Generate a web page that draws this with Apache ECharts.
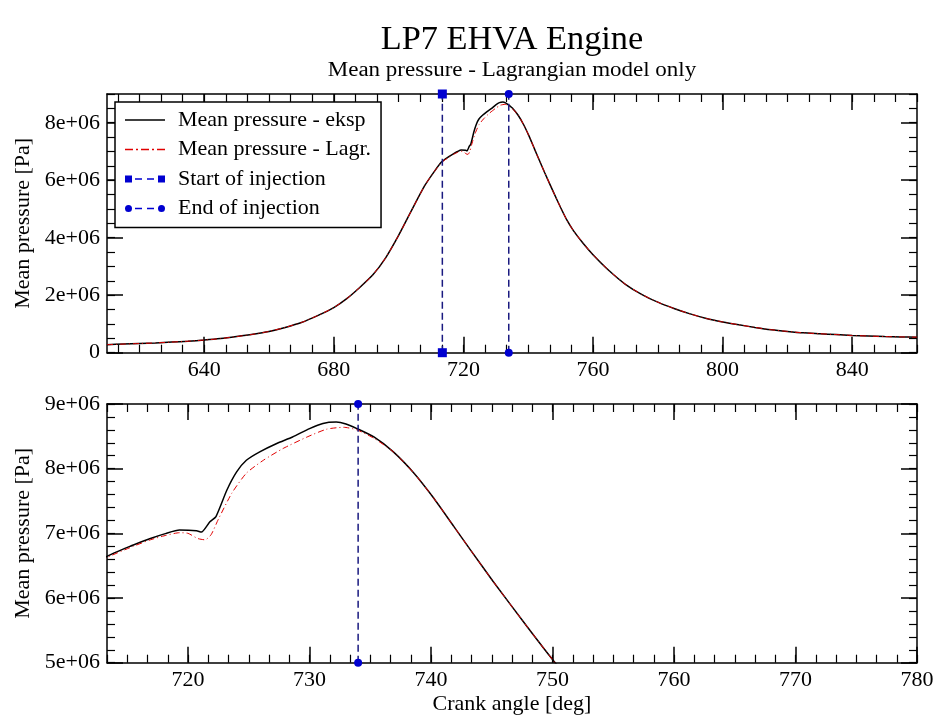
<!DOCTYPE html>
<html>
<head>
<meta charset="utf-8">
<script src="https://cdn.jsdelivr.net/npm/echarts@6/dist/echarts.min.js"></script>
<style>
html,body{margin:0;padding:0;background:#fff;}
#c{width:935px;height:715px;}
</style>
</head>
<body>
<div id="c"></div>
<script>
// ---- data (Pa vs crank angle deg) ----
const angleEksp = [610,615,620,625,630,635,640,645,650,655,660,665,670,675,680,684,688,692,696,700,704,708,711,713.3,715.5,716.9,718.2,719.3,720.7,721.1,721.8,722.3,723.2,724,724.8,725.9,727.3,728.6,730,731.1,732.2,733,733.9,735.3,736.9,738.6,740.2,741.9,743.3,745.1,747.9,750,752,754,757,760,765,770,775,780,785,790,795,800,805,810,815,820,825,830,835,840,845,850,855,860];
const pressureEksp = [0.28e6,0.30e6,0.32e6,0.34e6,0.37e6,0.40e6,0.44e6,0.49e6,0.56e6,0.64e6,0.74e6,0.88e6,1.05e6,1.29e6,1.57e6,1.88e6,2.27e6,2.70e6,3.30e6,4.08e6,4.95e6,5.80e6,6.30e6,6.64e6,6.82e6,6.92e6,7.00e6,7.05e6,7.04e6,7.02e6,7.18e6,7.26e6,7.67e6,7.95e6,8.13e6,8.26e6,8.39e6,8.49e6,8.62e6,8.70e6,8.72e6,8.69e6,8.62e6,8.49e6,8.26e6,7.93e6,7.55e6,7.10e6,6.73e6,6.26e6,5.56e6,5.05e6,4.60e6,4.24e6,3.80e6,3.41e6,2.85e6,2.38e6,2.03e6,1.76e6,1.54e6,1.35e6,1.19e6,1.07e6,0.97e6,0.88e6,0.80e6,0.74e6,0.69e6,0.66e6,0.63e6,0.60e6,0.58e6,0.56e6,0.55e6,0.54e6];
const angleLagr = [610,615,620,625,630,635,640,645,650,655,660,665,670,675,680,684,688,692,696,700,704,708,711,713.3,715.5,716.9,718.2,719.3,720.0,720.8,721.4,721.9,722.5,723.6,724.8,726.2,727.8,729.8,731.4,732.8,733.9,735.3,736.9,738.6,740.2,741.9,743.3,745.1,747.9,750,752,754,757,760,765,770,775,780,785,790,795,800,805,810,815,820,825,830,835,840,845,850,855,860];
const pressureLagr = [0.28e6,0.30e6,0.32e6,0.34e6,0.37e6,0.40e6,0.44e6,0.49e6,0.56e6,0.64e6,0.74e6,0.88e6,1.05e6,1.29e6,1.57e6,1.88e6,2.27e6,2.70e6,3.30e6,4.08e6,4.95e6,5.80e6,6.30e6,6.62e6,6.80e6,6.90e6,6.97e6,7.01e6,7.00e6,6.92e6,6.90e6,6.98e6,7.22e6,7.62e6,7.93e6,8.13e6,8.31e6,8.49e6,8.61e6,8.64e6,8.60e6,8.47e6,8.26e6,7.93e6,7.55e6,7.10e6,6.73e6,6.26e6,5.56e6,5.05e6,4.60e6,4.24e6,3.80e6,3.41e6,2.85e6,2.38e6,2.03e6,1.76e6,1.54e6,1.35e6,1.19e6,1.07e6,0.97e6,0.88e6,0.80e6,0.74e6,0.69e6,0.66e6,0.63e6,0.60e6,0.58e6,0.56e6,0.55e6,0.54e6];
const startInjection = 713.5;
const endInjection = 734;
const topXRange = [610, 860];
const topYRange = [0, 9e6];
const bottomXRange = [713.33, 780];
const bottomYRange = [5e6, 9e6];
const topXTicks = [640, 680, 720, 760, 800, 840];
const topYTicks = [0, 2e6, 4e6, 6e6, 8e6];
const bottomXTicks = [720, 730, 740, 750, 760, 770, 780];
const bottomYTicks = [5e6, 6e6, 7e6, 8e6, 9e6];
const seriesNames = ['Mean pressure - eksp', 'Mean pressure - Lagr.', 'Start of injection', 'End of injection'];

// ---- helpers ----
const FONT = 'Liberation Serif';
const C_EKSP = '#000000', C_LAGR = '#e00000', C_INJ = '#0000d0', C_INJ_LINE = '#1a1a80';
function pairs(xs, ys) { return xs.map((x, i) => [x, ys[i]]); }
function minorTicks(min, max, anchor, step) {
  const out = [];
  let n = Math.ceil((min - anchor) / step - 1e-6);
  for (;; n++) {
    const v = anchor + n * step;
    if (v > max + 1e-6) break;
    out.push(+v.toFixed(6));
  }
  return out;
}
function fmtY(v) { return v === 0 ? '0' : (Math.round(v / 1e5) / 10) + 'e+06'; }
const lineSt = { color: '#000', width: 1.5 };
const labelSt = { color: '#000', fontFamily: FONT, fontSize: 22 };

function makeAxes(dim, g, range, major, minorStep, fmt, name, nameGap) {
  const minor = minorTicks(range[0], range[1], major[0], minorStep);
  const pos = dim === 'x' ? ['bottom', 'top'] : ['left', 'right'];
  const base = { gridIndex: g, type: 'value', min: range[0], max: range[1], splitLine: { show: false }, minorTick: { show: false } };
  const mk = (p, isMajor, withLabel) => Object.assign({}, base, {
    position: p,
    axisLine: { show: isMajor, onZero: false, lineStyle: lineSt },
    axisTick: { show: true, inside: true, length: isMajor ? 16 : 8, customValues: isMajor ? major : minor, lineStyle: { color: '#000', width: isMajor ? 1.5 : 1.2 } },
    axisLabel: withLabel ? Object.assign({ show: true, customValues: major, margin: 7, formatter: fmt }, labelSt) : { show: false },
    name: withLabel ? name : '',
    nameLocation: 'middle',
    nameGap: nameGap,
    nameTextStyle: labelSt
  });
  return [mk(pos[0], true, true), mk(pos[0], false, false), mk(pos[1], true, false), mk(pos[1], false, false)];
}

const xAxes = [].concat(
  makeAxes('x', 0, topXRange, topXTicks, 20 / 3, v => String(v), '', 30),
  makeAxes('x', 1, bottomXRange, bottomXTicks, 10 / 6, v => String(v), 'Crank angle [deg]', 31)
);
const yAxes = [].concat(
  makeAxes('y', 0, topYRange, topYTicks, 0.5e6, fmtY, 'Mean pressure [Pa]', 72),
  makeAxes('y', 1, bottomYRange, bottomYTicks, 0.2e6, fmtY, 'Mean pressure [Pa]', 72)
);

const eksp = pairs(angleEksp, pressureEksp);
const lagr = pairs(angleLagr, pressureLagr);

function curve(name, data, gi, isExp) {
  return {
    name: name, type: 'line', xAxisIndex: gi * 4, yAxisIndex: gi * 4, data: data,
    symbol: 'none', showSymbol: false, smooth: 0.2, clip: true,
    lineStyle: isExp ? { color: C_EKSP, width: 1.5 } : { color: C_LAGR, width: 1, type: [6, 3, 1, 3] },
    itemStyle: { color: isExp ? C_EKSP : C_LAGR },
    z: isExp ? 3 : 4
  };
}
function injection(name, x, yr, gi, sym) {
  return {
    name: name, type: 'line', xAxisIndex: gi * 4, yAxisIndex: gi * 4,
    data: [[x, yr[0]], [x, yr[1]]],
    symbol: sym, symbolSize: sym === 'rect' ? 9 : 8, showSymbol: true, clip: false,
    lineStyle: { color: C_INJ_LINE, width: 1.5, type: [7, 4] },
    itemStyle: { color: C_INJ },
    z: 5
  };
}

// legend icons drawn like the reference key samples
const iconEksp = 'path://M0,0h40v1.6h-40z';
const iconLagr = 'path://M0,0h8v1.6h-8z M11,0h2v1.6h-2z M16,0h8v1.6h-8z M27,0h2v1.6h-2z M32,0h8v1.6h-8z';
const iconStart = 'path://M0,0h7v7h-7z M10,2.75h7v1.5h-7z M22,2.75h7v1.5h-7z M33,0h7v7h-7z';
const iconEnd = 'path://M0,3.5a3.5,3.5 0 1,0 7,0a3.5,3.5 0 1,0 -7,0z M10,2.75h7v1.5h-7z M22,2.75h7v1.5h-7z M33,3.5a3.5,3.5 0 1,0 7,0a3.5,3.5 0 1,0 -7,0z';

const option = {
  animation: false,
  backgroundColor: '#fff',
  graphic: [
    { type: 'text', x: 512, y: 40, scaleX: 1.04, style: { text: 'LP7 EHVA Engine', font: '33px "Liberation Serif"', fill: '#000', textAlign: 'center', textVerticalAlign: 'middle' } },
    { type: 'text', x: 512, y: 71, scaleX: 1.15, style: { text: 'Mean pressure - Lagrangian model only', font: '20px "Liberation Serif"', fill: '#000', textAlign: 'center', textVerticalAlign: 'middle' } }
  ],
  grid: [
    { left: 107, top: 94, right: 18, height: 258.7, containLabel: false, outerBoundsMode: 'none' },
    { left: 107, top: 404, right: 18, height: 258.7, containLabel: false, outerBoundsMode: 'none' }
  ],
  legend: {
    orient: 'vertical', left: 115, top: 102,
    padding: [7, 10, 8, 10], itemGap: 7.5, itemWidth: 40, itemHeight: 14,
    borderColor: '#000', borderWidth: 1.5, backgroundColor: '#fff',
    selectedMode: false,
    itemStyle: { borderWidth: 0 },
    textStyle: { color: '#000', fontFamily: FONT, fontSize: 22, padding: [0, 0, 0, 8] },
    data: [
      { name: seriesNames[0], icon: iconEksp, itemStyle: { color: C_EKSP } },
      { name: seriesNames[1], icon: iconLagr, itemStyle: { color: C_LAGR } },
      { name: seriesNames[2], icon: iconStart, itemStyle: { color: C_INJ } },
      { name: seriesNames[3], icon: iconEnd, itemStyle: { color: C_INJ } }
    ]
  },
  xAxis: xAxes,
  yAxis: yAxes,
  series: [
    curve(seriesNames[0], eksp, 0, true),
    curve(seriesNames[1], lagr, 0, false),
    injection(seriesNames[2], startInjection, topYRange, 0, 'rect'),
    injection(seriesNames[3], endInjection, topYRange, 0, 'circle'),
    curve(seriesNames[0], eksp, 1, true),
    curve(seriesNames[1], lagr, 1, false),
    injection(seriesNames[3], endInjection, bottomYRange, 1, 'circle')
  ]
};

const chart = echarts.init(document.getElementById('c'), null, { renderer: 'canvas' });
chart.setOption(option);
</script>
</body>
</html>
